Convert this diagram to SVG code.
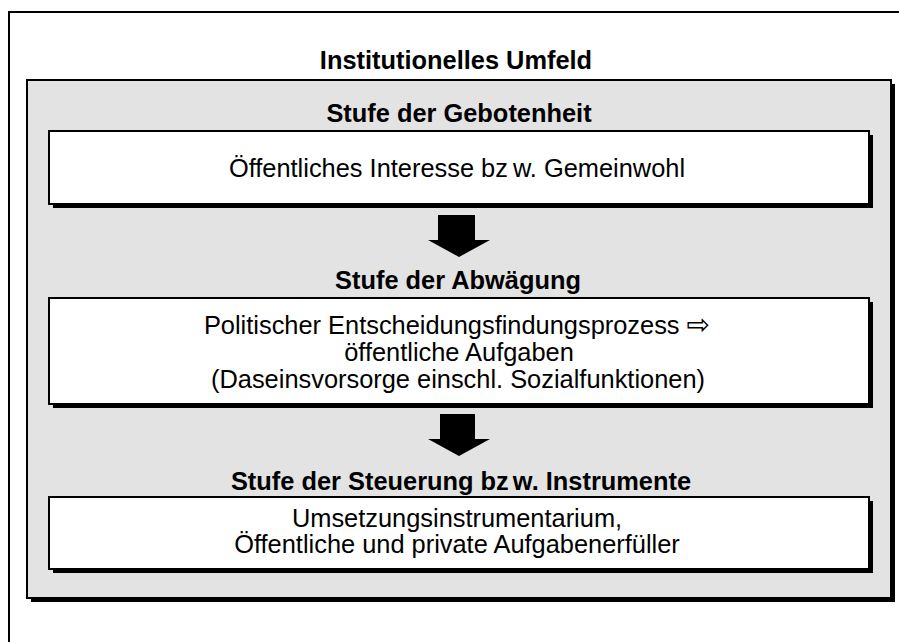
<svg xmlns="http://www.w3.org/2000/svg" width="899" height="642" viewBox="0 0 899 642">
<style>
.frame{fill:none;stroke:#000;stroke-width:2}
.shadow{fill:#000}
.gray{fill:#e3e3e3;stroke:#000;stroke-width:2}
.box{fill:#fff;stroke:#000;stroke-width:2}
.h{font-family:"Liberation Sans",Arial,sans-serif;font-weight:bold;font-size:25.4px;text-anchor:middle;fill:#000}
.t{font-family:"Liberation Sans",Arial,"DejaVu Sans",sans-serif;font-size:25.4px;text-anchor:middle;fill:#000}
.arrow{fill:#000}
</style>
<rect width="899" height="642" fill="#fff"/>
<rect class="frame" x="9" y="12" width="900" height="640"/>
<g id="umfeld">
<rect class="shadow" x="31" y="84" width="864" height="518"/>
<rect class="gray" x="27" y="80" width="864" height="518"/>
<text class="h" x="456" y="69">Institutionelles Umfeld</text>
</g>
<g id="gebotenheit">
<text class="h" x="459" y="122">Stufe der Gebotenheit</text>
<rect class="shadow" x="53" y="135" width="820" height="73"/>
<rect class="box" x="49" y="131" width="820" height="73"/>
<text class="t" x="457" y="177">Öffentliches Interesse bz<tspan dx="5">w.</tspan> Gemeinwohl</text>
</g>
<g id="abwaegung">
<text class="h" x="458" y="289">Stufe der Abwägung</text>
<rect class="shadow" x="53" y="302" width="820" height="106"/>
<rect class="box" x="49" y="298" width="820" height="106"/>
<text class="t" x="457" y="334">Politischer Entscheidungsfindungsprozess <tspan font-size="28px">⇨</tspan></text>
<text class="t" x="459" y="361">öffentliche Aufgaben</text>
<text class="t" x="458" y="388">(Daseinsvorsorge einschl. Sozialfunktionen)</text>
</g>
<g id="steuerung">
<text class="h" x="461" y="490">Stufe der Steuerung bz<tspan dx="4">w.</tspan> Instrumente</text>
<rect class="shadow" x="53" y="501" width="820" height="72"/>
<rect class="box" x="49" y="497" width="820" height="72"/>
<text class="t" x="457" y="527">Umsetzungsinstrumentarium,</text>
<text class="t" x="457" y="553">Öffentliche und private Aufgabenerfüller</text>
</g>
<g id="connectors">
<polygon class="arrow" points="438,215 475,215 475,240 490,240 459,257 428,240 438,240"/>
<polygon class="arrow" points="440,414 475,414 475,439 490,439 459,456 428,439 440,439"/>
</g>
</svg>
